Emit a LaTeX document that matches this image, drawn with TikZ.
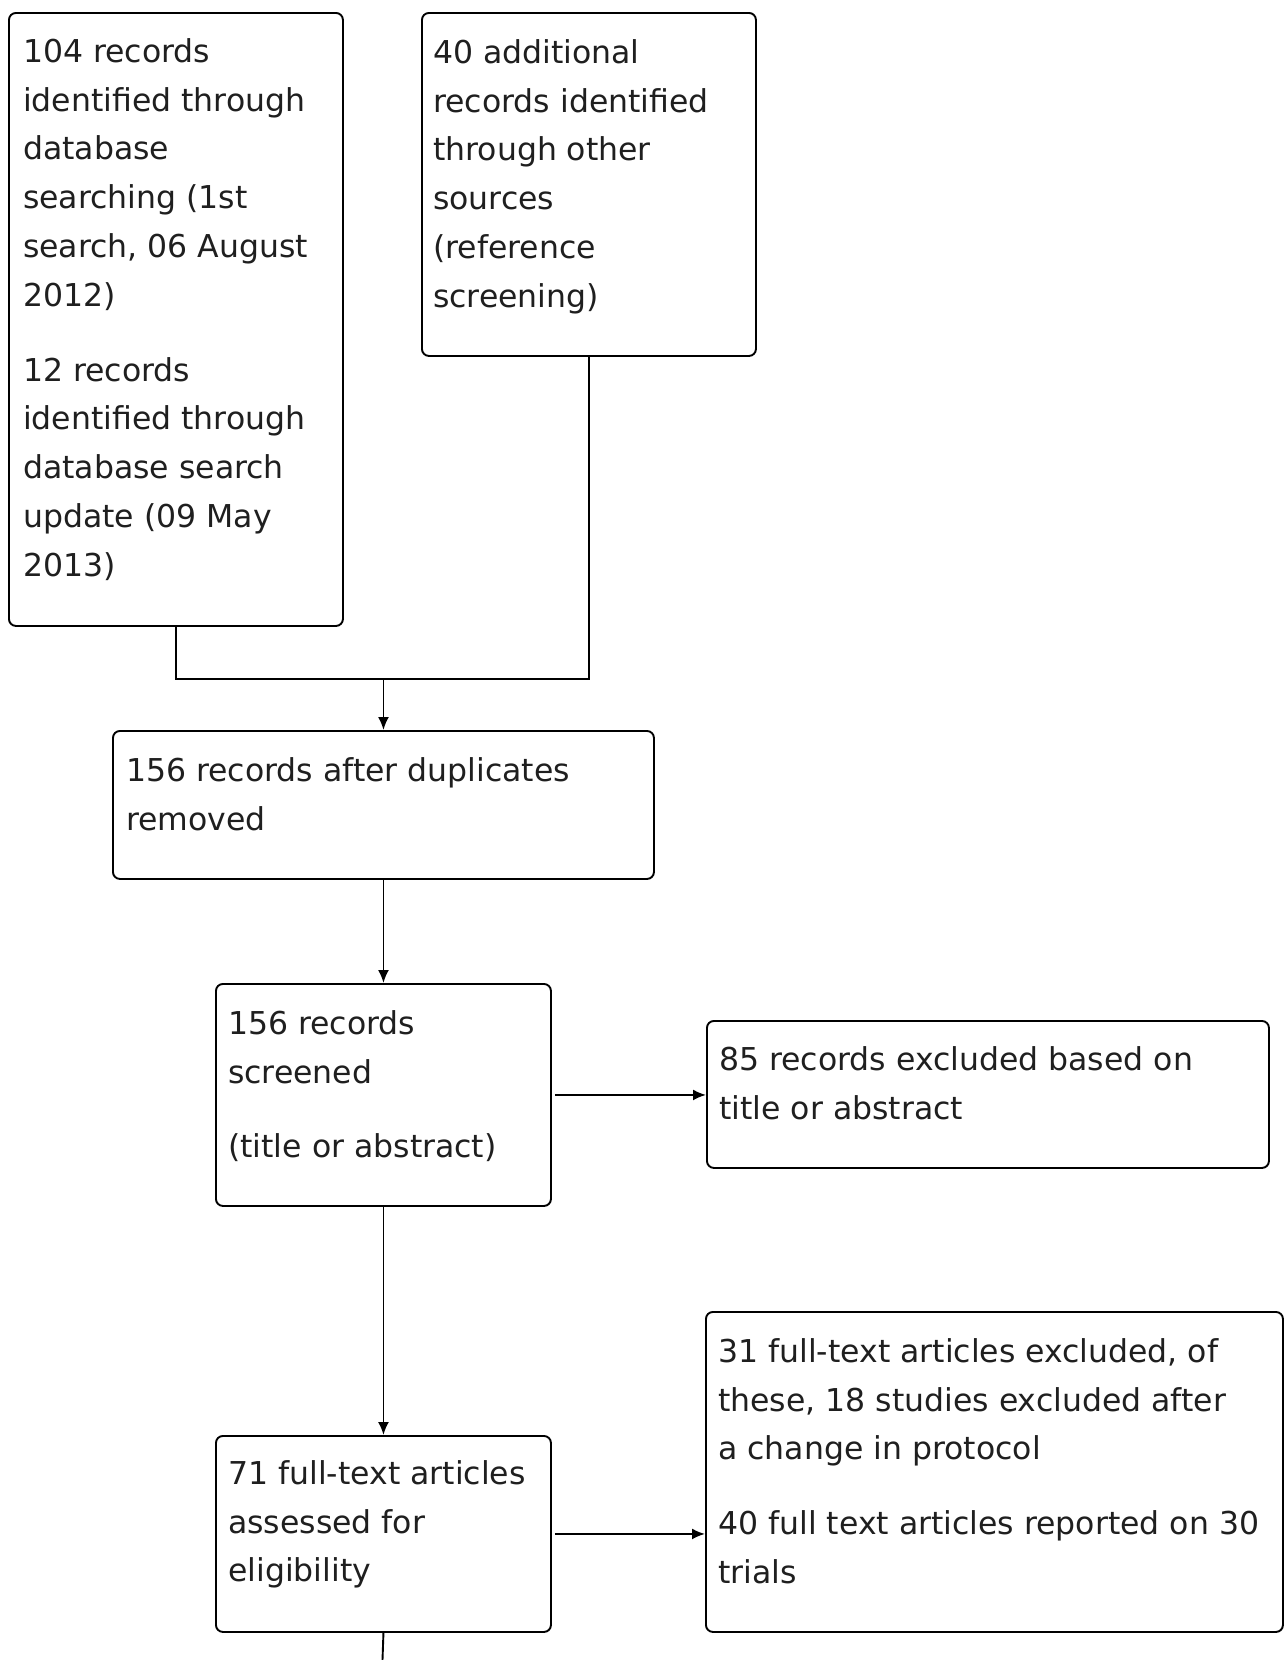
\documentclass[tikz,border=0pt]{standalone}
\usepackage{fontspec}
\setmainfont{DejaVu Sans}
\usetikzlibrary{arrows.meta}
\newcommand\firststrut{\rule{0pt}{30pt}}
\begin{document}
\begin{tikzpicture}[x=1pt,y=-1pt,
  box/.style={draw, line width=1.9pt, rounded corners=7pt, fill=white, inner sep=0pt, anchor=north west},
  txt/.style={anchor=north west, inner sep=0pt, align=left, text=black!88, font=\fontsize{31.5}{48.8}\selectfont},
  link/.style={line width=1.9pt},
  arr/.style={line width=1.9pt, -{Latex[length=13pt,width=11pt]}}]
\useasboundingbox (0,0) rectangle (1284,1660);
% boxes
\node[box, minimum width=334pt, minimum height=613pt] (A) at (8,12) {};
\node[box, minimum width=334pt, minimum height=343pt] (B) at (421,12) {};
\node[box, minimum width=541pt, minimum height=148pt] (C) at (112,730) {};
\node[box, minimum width=335pt, minimum height=222pt] (D) at (215,983) {};
\node[box, minimum width=562pt, minimum height=147pt] (E) at (706,1020) {};
\node[box, minimum width=335pt, minimum height=196pt] (F) at (215,1435) {};
\node[box, minimum width=577pt, minimum height=320pt] (G) at (705,1311) {};
% texts
\node[txt] (tA) at (23,32) {\firststrut 104 records\\identified through\\database\\searching (1st\\search, 06 August\\2012)\\[26pt]12 records\\identified through\\database search\\update (09 May\\2013)};
\node[txt] (tB) at (433,33) {\firststrut 40 additional\\records identified\\through other\\sources\\(reference\\screening)};
\node[txt] (tC) at (126,751) {\firststrut 156 records after duplicates\\removed};
\node[txt] (tD) at (228,1004) {\firststrut 156 records\\screened\\[26pt](title or abstract)};
\node[txt] (tE) at (719,1040) {\firststrut 85 records excluded based on\\title or abstract};
\node[txt] (tF) at (228,1454) {\firststrut 71 full-text articles\\assessed for\\eligibility};
\node[txt] (tG) at (718,1332) {\firststrut 31 full-text articles excluded, of\\these, 18 studies excluded after\\a change in protocol\\[26pt]40 full text articles reported on 30\\trials};
% connectors
\coordinate (j) at (382.5,679);
\coordinate (bot) at (382.5,1660);
\draw[link] (A.south) -- (A.south |- j) -- (B.south |- j) -- (B.south);
\draw[arr] (C.north |- j) -- (C.north);
\draw[arr] (C.south) -- (D.north);
\draw[arr, shorten <=3pt] (D.east) -- (D.east -| E.west);
\draw[arr] (D.south) -- (F.north);
\draw[arr, shorten <=3pt] (F.east) -- (F.east -| G.west);
\draw[link] (F.south) -- (bot);
\end{tikzpicture}
\end{document}
